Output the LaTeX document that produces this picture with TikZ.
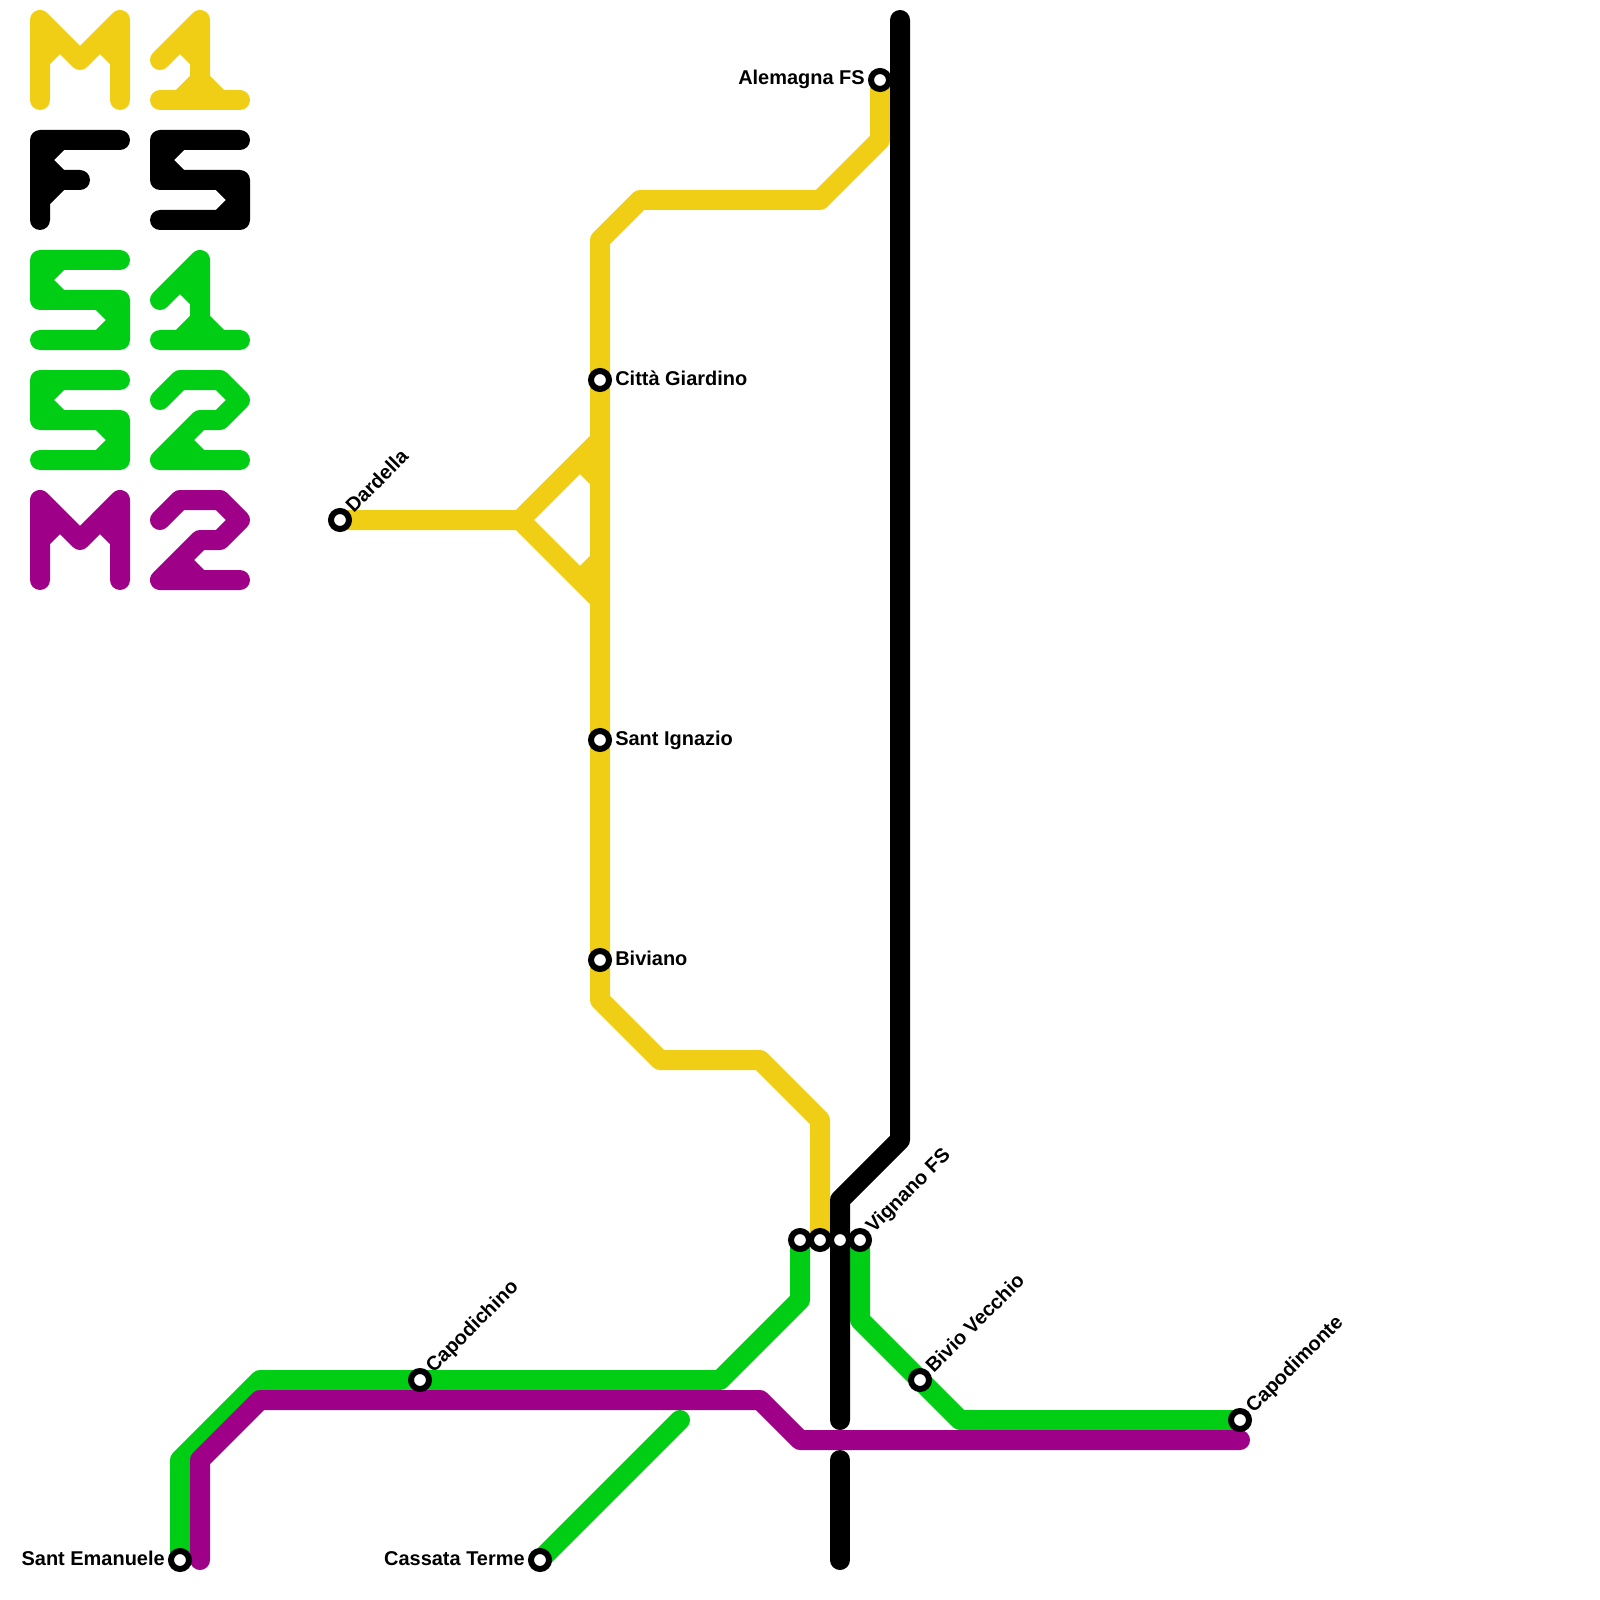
\documentclass[tikz,border=0pt]{standalone}
\usepackage{fontspec}
\setmainfont{Liberation Sans}
\definecolor{Sunflower}{RGB}{240, 206, 21}
\definecolor{Emerald}{RGB}{0, 206, 21}
\definecolor{Plum}{RGB}{158, 0, 135}
\usepackage{tikz}
\begin{document}
\begin{tikzpicture}[x=0.25mm, y=-0.25mm,
    rail/.style={draw=#1, line width=5mm, line cap=round, line join=round},
    stop/.style={circle, draw=black, fill=white, line width=1.5mm, minimum size=4.5mm, inner sep=0pt},
    nameE/.style={font=\bfseries\fontsize{14.2pt}{16pt}\selectfont, inner sep=0pt, anchor=base west, xshift=3.75mm, yshift=-1.25mm},
    nameW/.style={font=\bfseries\fontsize{14.2pt}{16pt}\selectfont, inner sep=0pt, anchor=base east, xshift=-3.75mm, yshift=-1.25mm},
    nameNE/.style={font=\bfseries\fontsize{14.2pt}{16pt}\selectfont, inner sep=0pt, anchor=base west, xshift=3.4mm, yshift=1.5mm, rotate=45}
]
\useasboundingbox (0,0) rectangle (1600,1600);
% Fermate
\foreach \stop/\x/\y in {Alemagna/880/80, Citta/600/380, Dardella/340/520, Ignazio/600/740, Biviano/600/960, TermA/800/1240, TermB/820/1240, TermC/840/1240, Vignano/860/1240, Capodichino/420/1380, Bivio/920/1380, Capodimonte/1240/1420, Emanuele/180/1560, Cassata/540/1560} {
    \coordinate (\stop) at (\x,\y);
}
% Legenda
\foreach \dy/\col in {0/Sunflower, 480/Plum} {
    \draw[rail=\col, shift={(0,\dy)}] (40,100)--(40,20)--(80,60)--(120,20)--(120,100) (60,40)--(40,60) (100,40)--(120,60);
}
\foreach \dy/\col in {0/Sunflower, 240/Emerald} {
    \draw[rail=\col, shift={(0,\dy)}] (160,60)--(200,20)--(200,100) (160,100)--(240,100) (180,100)--(200,80)--(220,100) (180,40)--(200,60);
}
\draw[rail=black] (40,220)--(40,140)--(120,140) (40,180)--(80,180) (60,140)--(40,160)--(60,180)--(40,200);
\foreach \dx/\dy/\col in {120/0/black, 0/120/Emerald, 0/240/Emerald} {
    \draw[rail=\col, shift={(\dx,\dy)}] (120,140)--(40,140)--(40,180)--(120,180)--(120,220)--(40,220) (60,140)--(40,160)--(60,180) (100,180)--(120,200)--(100,220);
}
\foreach \dy/\col in {0/Emerald, 120/Plum} {
    \draw[rail=\col, shift={(0,\dy)}] (160,400)--(180,380)--(220,380)--(240,400)--(220,420)--(200,420)--(160,460)--(240,460) (180,440)--(200,460);
}
% Linea gialla
\draw[rail=Sunflower] (Dardella)--(520,520)--(600,440) (520,520)--(600,600) (580,460)--(600,480) (580,580)--(600,560);
\draw[rail=Sunflower] (Alemagna)--(880,140)--(820,200)--(640,200)--(600,240)--(Citta)--(Ignazio)--(Biviano)--(600,1000)--(660,1060)--(760,1060)--(820,1120)--(TermB);
% Linee verdi
\draw[rail=Emerald] (Emanuele)--(180,1460)--(260,1380)--(Capodichino)--(720,1380)--(800,1300)--(TermA);
\draw[rail=Emerald] (Vignano)--(860,1320)--(Bivio)--(960,1420)--(Capodimonte);
\draw[rail=Emerald] (Cassata)--(680,1420);
% Linea nera
\draw[rail=black] (900,20)--(900,1140)--(840,1200)--(TermC)--(840,1420);
\draw[rail=black] (840,1460)--(840,1560);
% Linea viola
\draw[rail=Plum] (200,1560)--(200,1460)--(260,1400)--(760,1400)--(800,1440)--(1240,1440);
% Cerchi
\foreach \stop in {Alemagna, Citta, Dardella, Ignazio, Biviano, TermA, TermB, TermC, Vignano, Capodichino, Bivio, Capodimonte, Emanuele, Cassata} {
    \node[stop] (n\stop) at (\stop) {};
}
% Nomi
\foreach \stop/\event in {Citta/Città Giardino, Ignazio/Sant Ignazio, Biviano/Biviano} {
    \node[nameE] (t\stop) at (\stop) {\event};
}
\foreach \stop/\event in {Alemagna/Alemagna FS, Emanuele/Sant Emanuele, Cassata/Cassata Terme} {
    \node[nameW] (t\stop) at (\stop) {\event};
}
\foreach \stop/\event in {Dardella/Dardella, Capodichino/Capodichino, Vignano/Vignano FS, Bivio/Bivio Vecchio, Capodimonte/Capodimonte} {
    \node[nameNE] (t\stop) at (\stop) {\event};
}
\end{tikzpicture}
\end{document}
